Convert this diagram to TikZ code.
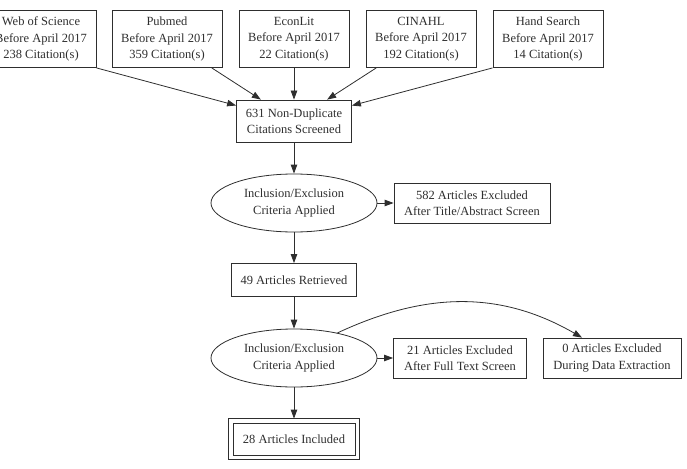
\documentclass[tikz,border=0pt]{standalone}
\usepackage{fontspec}
\setmainfont{Liberation Serif}
\usetikzlibrary{arrows.meta,shapes.geometric}
\definecolor{ink}{HTML}{2E2E2E}

\begin{document}
\begin{tikzpicture}[x=1pt,y=-1pt,
  every node/.style={draw=ink,text=ink,inner sep=0pt,align=center,line width=0.8pt,
    font=\fontsize{12.5}{16.5}\selectfont},
  srcbox/.style={minimum width=110pt,minimum height=57pt},
  crit/.style={ellipse,minimum width=166pt,minimum height=58pt},
  flow/.style={ink,line width=0.8pt,-{Triangle[length=9pt,width=6.5pt]}}]
  \clip (0,0) rectangle (687,468);

  % Top: database searches
  \node[srcbox] (wos) at (41,39) {Web of Science\\Before April 2017\\238 Citation(s)};
  \node[srcbox] (pubmed) at (167,39) {Pubmed\\Before April 2017\\359 Citation(s)};
  \node[srcbox] (econ) at (294,39) {EconLit\\Before April 2017\\22 Citation(s)};
  \node[srcbox] (cinahl) at (421,39) {CINAHL\\Before April 2017\\192 Citation(s)};
  \node[srcbox] (hand) at (548,39) {Hand Search\\Before April 2017\\14 Citation(s)};

  % Screening
  \node[minimum width=115pt,minimum height=42pt] (screen) at (294,121) {631 Non-Duplicate\\Citations Screened};
  \node[crit] (crit1) at (294,203) {Inclusion/Exclusion\\Criteria Applied};
  \node[minimum width=156pt,minimum height=40pt] (ex1) at (472,203) {582 Articles Excluded\\After Title/Abstract Screen};
  \node[minimum width=125pt,minimum height=33pt] (retr) at (294,280) {49 Articles Retrieved};

  % Full text
  \node[crit] (crit2) at (294,358) {Inclusion/Exclusion\\Criteria Applied};
  \node[minimum width=133pt,minimum height=40pt] (ex2) at (460,358) {21 Articles Excluded\\After Full Text Screen};
  \node[minimum width=138pt,minimum height=40pt] (ex3) at (612,358) {0 Articles Excluded\\During Data Extraction};
  \node[minimum width=122pt,minimum height=32pt] (incl) at (294,439) {28 Articles Included};
  % second border
  \draw[ink,line width=0.8pt] ([shift={(-4pt,4pt)}]incl.north west) rectangle ([shift={(4pt,-4pt)}]incl.south east);

  % Edges
  \draw[flow] (wos.south east) -- (screen);
  \draw[flow] (pubmed) -- (screen);
  \draw[flow] (econ) -- (screen);
  \draw[flow] (cinahl) -- (screen);
  \draw[flow] (hand.south west) -- (screen);
  \draw[flow] (screen) -- (crit1);
  \draw[flow] (crit1) -- (ex1);
  \draw[flow] (crit1) -- (retr);
  \draw[flow] (retr) -- (crit2);
  \draw[flow] (crit2) -- (ex2);
  \draw[flow] (crit2.30) to[out=25,in=150] ([xshift=-30pt]ex3.north);
  \draw[flow] (crit2) -- ([yshift=4pt]incl.north);
\end{tikzpicture}
\end{document}
